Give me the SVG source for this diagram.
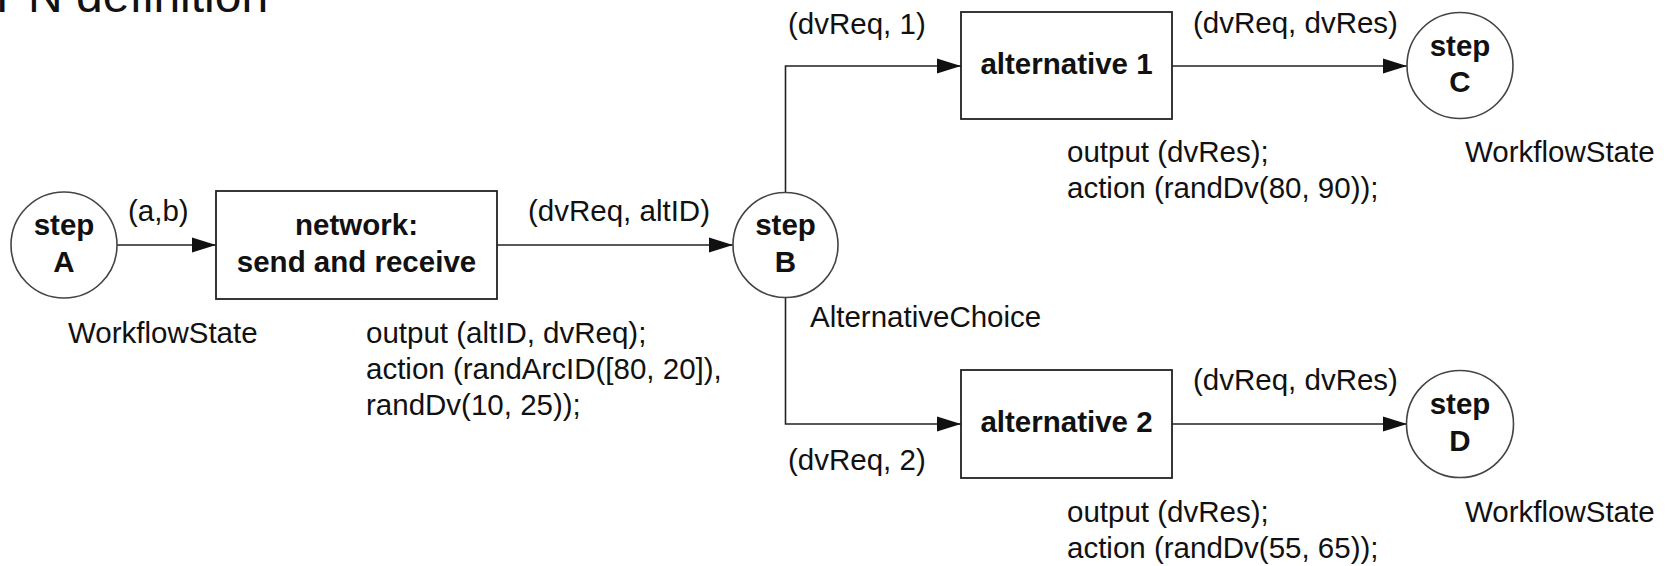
<svg xmlns="http://www.w3.org/2000/svg" width="1666" height="566" viewBox="0 0 1666 566">
<style>
text { font-family: "Liberation Sans", Arial, sans-serif; font-size: 29.5px; fill: #111; }
.b { font-weight: bold; text-anchor: middle; }
.title { font-size: 48px; }
.place { fill: #fff; stroke: #444; stroke-width: 1.6; }
.trans { fill: #fff; stroke: #222; stroke-width: 1.8; }
.arc { fill: none; stroke: #222; stroke-width: 1.6; }
</style>
<defs>
<marker id="arrow" markerUnits="userSpaceOnUse" markerWidth="24" markerHeight="16" refX="24" refY="8" orient="auto">
<path d="M0,0.5 L24,8 L0,15.5 z" fill="#111"/>
</marker>
</defs>
<rect width="1666" height="566" fill="#fff"/>
<text class="title" x="-4" y="11.5">PN definition</text>

<g id="connectors">
<line class="arc" x1="117" y1="245" x2="216" y2="245" marker-end="url(#arrow)"/>
<line class="arc" x1="497" y1="245" x2="733" y2="245" marker-end="url(#arrow)"/>
<path class="arc" d="M785.5,192 V66 H961" marker-end="url(#arrow)"/>
<path class="arc" d="M785.5,298 V424 H961" marker-end="url(#arrow)"/>
<line class="arc" x1="1172" y1="66" x2="1407" y2="66" marker-end="url(#arrow)"/>
<line class="arc" x1="1172" y1="424" x2="1407" y2="424" marker-end="url(#arrow)"/>
<text x="128" y="221">(a,b)</text>
<text x="528" y="221">(dvReq, altID)</text>
<text x="788" y="34">(dvReq, 1)</text>
<text x="788" y="470">(dvReq, 2)</text>
<text x="1193" y="33">(dvReq, dvRes)</text>
<text x="1193" y="390">(dvReq, dvRes)</text>
</g>

<g id="stepA">
<circle class="place" cx="64" cy="245" r="53"/>
<text class="b" x="64" y="235">step</text>
<text class="b" x="64" y="272">A</text>
<text x="68" y="343">WorkflowState</text>
</g>

<g id="network">
<rect class="trans" x="216" y="191" width="281" height="108"/>
<text class="b" x="356.5" y="235">network:</text>
<text class="b" x="356.5" y="272">send and receive</text>
<text x="366" y="343">output (altID, dvReq);</text>
<text x="366" y="379">action (randArcID([80, 20]),</text>
<text x="366" y="415">randDv(10, 25));</text>
</g>

<g id="stepB">
<circle class="place" cx="785.5" cy="245" r="52.5"/>
<text class="b" x="785.5" y="235">step</text>
<text class="b" x="785.5" y="272">B</text>
<text x="810" y="327">AlternativeChoice</text>
</g>

<g id="alternative1">
<rect class="trans" x="961" y="12" width="211" height="107"/>
<text class="b" x="1066.5" y="74">alternative 1</text>
<text x="1067" y="162">output (dvRes);</text>
<text x="1067" y="198">action (randDv(80, 90));</text>
</g>

<g id="alternative2">
<rect class="trans" x="961" y="370" width="211" height="108"/>
<text class="b" x="1066.5" y="432">alternative 2</text>
<text x="1067" y="522">output (dvRes);</text>
<text x="1067" y="558">action (randDv(55, 65));</text>
</g>

<g id="stepC">
<circle class="place" cx="1460" cy="65.5" r="53"/>
<text class="b" x="1460" y="55.5">step</text>
<text class="b" x="1460" y="92">C</text>
<text x="1465" y="162">WorkflowState</text>
</g>

<g id="stepD">
<circle class="place" cx="1460" cy="424" r="53.5"/>
<text class="b" x="1460" y="413.5">step</text>
<text class="b" x="1460" y="451">D</text>
<text x="1465" y="522">WorkflowState</text>
</g>
</svg>
